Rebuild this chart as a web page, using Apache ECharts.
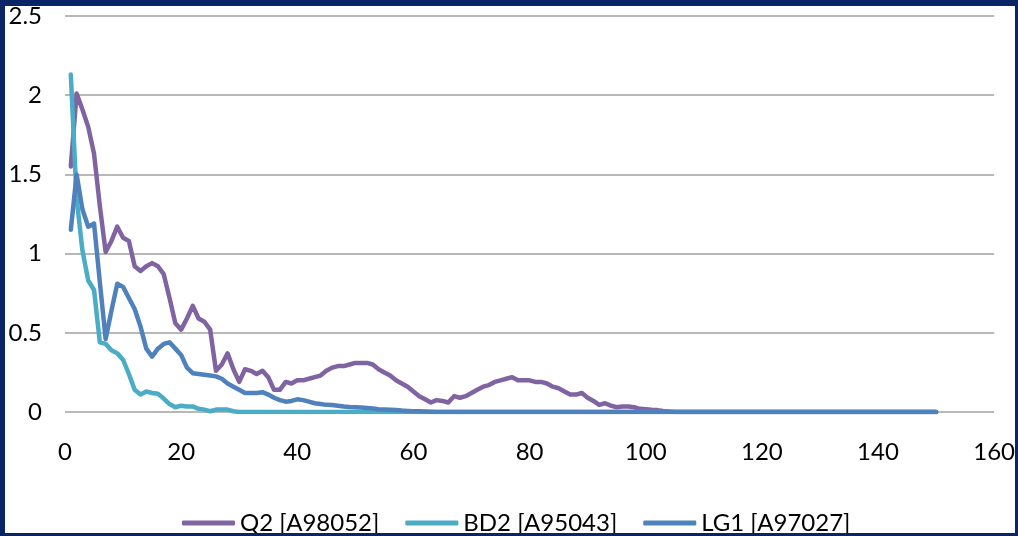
<!DOCTYPE html>
<html>
<head>
<meta charset="utf-8">
<title>Q2 / BD2 / LG1</title>
<script src="https://cdn.jsdelivr.net/npm/echarts@6/dist/echarts.min.js"></script>
<style>
    html, body { margin: 0; padding: 0; background: #fff; }
    #main { position: absolute; left: 0; top: 0; width: 1018px; height: 536px; }
    #frame {
        position: absolute; left: 0; top: 0; width: 1018px; height: 536px;
        box-sizing: border-box; pointer-events: none; z-index: 5;
        border-style: solid; border-color: #0b2466;
        border-width: 6px 3px 3px 5px;
    }
</style>
</head>
<body>
<div id="main"></div>
<div id="frame"></div>
<script type="text/javascript">
    // 数据 (x = 1..150)
    var names = ['Q2 [A98052]', 'BD2 [A95043]', 'LG1 [A97027]'];
    var colors = ['#8064a2', '#4bacc6', '#4f81bd'];

    var q2 = [
        1.55, 2.01, 1.91, 1.80, 1.63, 1.30, 1.01, 1.08, 1.17, 1.10,
        1.08, 0.92, 0.89, 0.92, 0.94, 0.92, 0.87, 0.72, 0.56, 0.52,
        0.59, 0.67, 0.59, 0.57, 0.52, 0.26, 0.30, 0.37, 0.27, 0.19,
        0.27, 0.26, 0.24, 0.26, 0.22, 0.14, 0.14, 0.19, 0.18, 0.20,
        0.20, 0.21, 0.22, 0.23, 0.26, 0.28, 0.29, 0.29, 0.30, 0.31,
        0.31, 0.31, 0.30, 0.27, 0.25, 0.23, 0.20, 0.18, 0.16, 0.13,
        0.10, 0.08, 0.06, 0.075, 0.07, 0.06, 0.10, 0.09, 0.10, 0.12,
        0.14, 0.16, 0.17, 0.19, 0.20, 0.21, 0.22, 0.20, 0.20, 0.20,
        0.19, 0.19, 0.18, 0.16, 0.15, 0.13, 0.11, 0.11, 0.12, 0.09,
        0.07, 0.045, 0.055, 0.04, 0.03, 0.035, 0.035, 0.03, 0.02, 0.018,
        0.014, 0.012, 0.006, 0.003, 0, 0, 0, 0, 0, 0,
        0, 0, 0, 0, 0, 0, 0, 0, 0, 0,
        0, 0, 0, 0, 0, 0, 0, 0, 0, 0,
        0, 0, 0, 0, 0, 0, 0, 0, 0, 0,
        0, 0, 0, 0, 0, 0, 0, 0, 0, 0
    ];
    var bd2 = [
        2.13, 1.35, 1.02, 0.83, 0.77, 0.44, 0.43, 0.39, 0.37, 0.33,
        0.24, 0.14, 0.11, 0.13, 0.12, 0.115, 0.085, 0.05, 0.03, 0.04,
        0.035, 0.035, 0.02, 0.015, 0.005, 0.015, 0.015, 0.015, 0.005, 0,
        0, 0, 0, 0, 0, 0, 0, 0, 0, 0,
        0, 0, 0, 0, 0, 0, 0, 0, 0, 0,
        0, 0, 0, 0, 0, 0, 0, 0, 0, 0,
        0, 0, 0, 0, 0, 0, 0, 0, 0, 0,
        0, 0, 0, 0, 0, 0, 0, 0, 0, 0,
        0, 0, 0, 0, 0, 0, 0, 0, 0, 0,
        0, 0, 0, 0, 0, 0, 0, 0, 0, 0,
        0, 0, 0, 0, 0, 0, 0, 0, 0, 0,
        0, 0, 0, 0, 0, 0, 0, 0, 0, 0,
        0, 0, 0, 0, 0, 0, 0, 0, 0, 0,
        0, 0, 0, 0, 0, 0, 0, 0, 0, 0,
        0, 0, 0, 0, 0, 0, 0, 0, 0, 0
    ];
    var lg1 = [
        1.15, 1.50, 1.28, 1.17, 1.19, 0.82, 0.46, 0.64, 0.81, 0.79,
        0.72, 0.65, 0.54, 0.40, 0.35, 0.40, 0.43, 0.44, 0.40, 0.36,
        0.28, 0.245, 0.24, 0.235, 0.23, 0.225, 0.21, 0.18, 0.16, 0.14,
        0.12, 0.12, 0.12, 0.125, 0.11, 0.09, 0.075, 0.065, 0.07, 0.08,
        0.075, 0.065, 0.055, 0.05, 0.045, 0.044, 0.04, 0.035, 0.032, 0.03,
        0.028, 0.026, 0.022, 0.018, 0.016, 0.014, 0.012, 0.009, 0.007, 0.005,
        0.004, 0.003, 0.002, 0, 0, 0, 0, 0, 0, 0,
        0, 0, 0, 0, 0, 0, 0, 0, 0, 0,
        0, 0, 0, 0, 0, 0, 0, 0, 0, 0,
        0, 0, 0, 0, 0, 0, 0, 0, 0, 0,
        0, 0, 0, 0, 0, 0, 0, 0, 0, 0,
        0, 0, 0, 0, 0, 0, 0, 0, 0, 0,
        0, 0, 0, 0, 0, 0, 0, 0, 0, 0,
        0, 0, 0, 0, 0, 0, 0, 0, 0, 0,
        0, 0, 0, 0, 0, 0, 0, 0, 0, 0
    ];

    var font = 'Lato';

    function toPairs(arr) {
        var out = [];
        for (var i = 0; i < arr.length; i++) {
            out.push([i + 1, arr[i]]);
        }
        return out;
    }

    var allData = [q2, bd2, lg1];
    var series = [];
    for (var k = 0; k < names.length; k++) {
        series.push({
            name: names[k],
            type: 'line',
            data: toPairs(allData[k]),
            showSymbol: false,
            symbol: 'none',
            lineStyle: { width: 4.5, color: colors[k], join: 'round', cap: 'round' },
            itemStyle: { color: colors[k] },
            animation: false
        });
    }

    var myChart = echarts.init(document.getElementById('main'));
    var option = {
        backgroundColor: 'transparent',
        animation: false,
        grid: { left: 65, right: 21, top: 16, bottom: 124, containLabel: false },
        legend: {
            data: names,
            left: 177,
            top: 506,
            icon: 'roundRect',
            itemWidth: 53,
            itemHeight: 5,
            itemGap: 26,
            textStyle: { fontFamily: font, fontSize: 24, color: '#000' }
        },
        xAxis: {
            type: 'value',
            min: 0,
            max: 160,
            interval: 20,
            axisLine: { show: false },
            axisTick: { show: false },
            splitLine: { show: false },
            axisLabel: { fontFamily: font, fontSize: 24, color: '#000', margin: 28 }
        },
        yAxis: {
            type: 'value',
            min: 0,
            max: 2.5,
            interval: 0.5,
            axisLine: { show: false },
            axisTick: { show: false },
            splitLine: { show: true, lineStyle: { color: '#a0a0a0', width: 1.5 } },
            axisLabel: { fontFamily: font, fontSize: 24, color: '#000', margin: 23 }
        },
        series: series
    };
    myChart.setOption(option);
</script>
</body>
</html>
